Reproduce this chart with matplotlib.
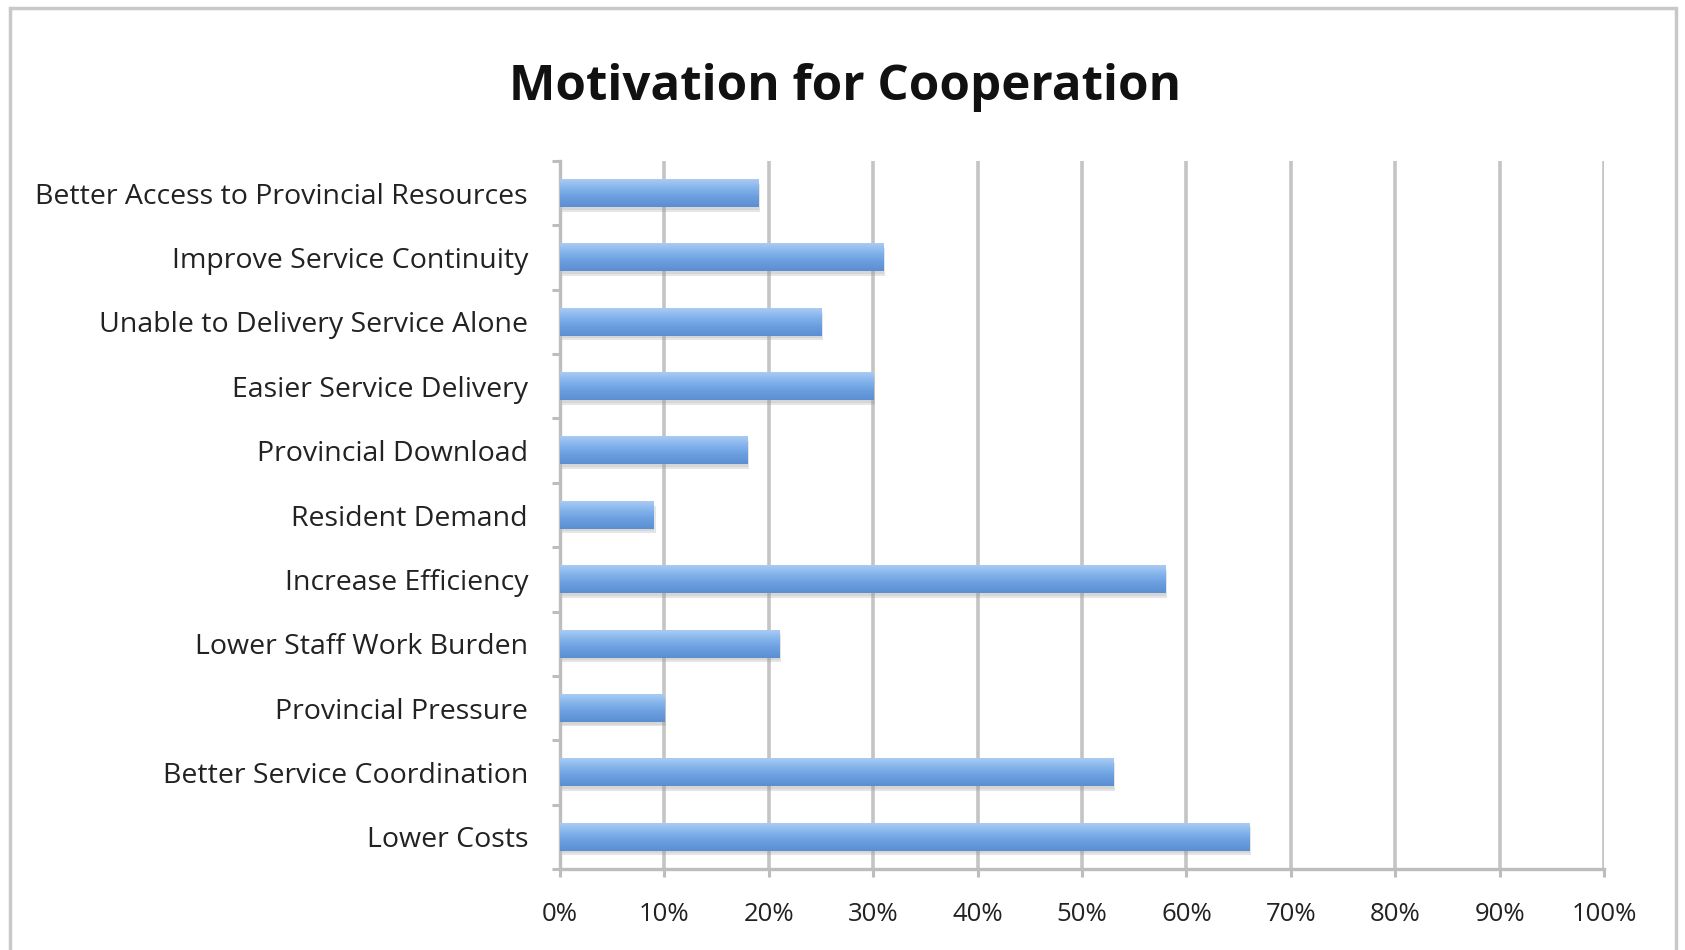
import matplotlib
matplotlib.use("Agg")
import matplotlib.pyplot as plt
import numpy as np
from matplotlib.colors import LinearSegmentedColormap
from matplotlib.patches import Rectangle

categories = [
    "Better Access to Provincial Resources",
    "Improve Service Continuity",
    "Unable to Delivery Service Alone",
    "Easier Service Delivery",
    "Provincial Download",
    "Resident Demand",
    "Increase Efficiency",
    "Lower Staff Work Burden",
    "Provincial Pressure",
    "Better Service Coordination",
    "Lower Costs",
]
values = [19, 31, 25, 30, 18, 9, 58, 21, 10, 53, 66]
x_ticks = [0, 10, 20, 30, 40, 50, 60, 70, 80, 90, 100]
x_tick_labels = [f"{t}%" for t in x_ticks]
title = "Motivation for Cooperation"

FONT = ["Open Sans", "DejaVu Sans"]
plt.rcParams["font.family"] = FONT

W, H = 1685, 950
fig = plt.figure(figsize=(W / 100, H / 100), dpi=100)
fig.patch.set_facecolor("white")

# chart-area border
fig.patches.append(Rectangle((10 / W, -0.05), (1676 - 10) / W, (H - 8) / H + 0.05,
                             transform=fig.transFigure, fill=False,
                             edgecolor="#C8C8C8", linewidth=2.5, zorder=0))

ax = fig.add_axes([560 / W, 1 - 869 / H, (1604 - 560) / W, (869 - 161) / H])

n = len(categories)
ypos = np.arange(n)[::-1]  # first category at top
bar_h = 0.43

grad = LinearSegmentedColormap.from_list(
    "g", [(0.0, "#5B8FD2"), (0.35, "#6A9EDF"), (0.7, "#86B5EC"), (1.0, "#A9CBF4")])
gimg = np.linspace(0, 1, 64).reshape(-1, 1)

for y, v in zip(ypos, values):
    # soft shadow
    ax.barh(y - 0.07, v, height=bar_h, left=0.15, color="#9A9A9A", alpha=0.25,
            zorder=2, linewidth=0)
    ax.barh(y - 0.04, v, height=bar_h, left=0.05, color="#9A9A9A", alpha=0.2,
            zorder=2, linewidth=0)
    ax.imshow(gimg, cmap=grad, aspect="auto", origin="lower",
              extent=[0, v, y - bar_h / 2, y + bar_h / 2], zorder=3,
              interpolation="bilinear")

ax.set_xlim(0, 100)
ax.set_ylim(-0.5, n - 0.5)

ax.set_xticks(x_ticks)
ax.set_xticklabels(x_tick_labels, fontsize=18.5, color="#222222")
ax.set_yticks(ypos)
ax.set_yticklabels(categories, fontsize=20.5, color="#222222")
ax.set_yticks(np.arange(-0.5, n, 1.0), minor=True)

ax.tick_params(axis="y", which="major", length=0, pad=23)
ax.tick_params(axis="y", which="minor", length=6, width=2.2, color="#BDBDBD", direction="out")
ax.tick_params(axis="x", which="major", length=6, width=2.2, color="#BDBDBD", pad=18, direction="out")

for xv in x_ticks[1:]:
    ax.axvline(xv, color="#C4C4C4", linewidth=2.6, zorder=1)

for s in ["top", "right"]:
    ax.spines[s].set_visible(False)
for s in ["left", "bottom"]:
    ax.spines[s].set_color("#BDBDBD")
    ax.spines[s].set_linewidth(2.4)

fig.text((786 * W / 1568) / W, 1 - 87 / H, title, ha="center", va="center",
         fontsize=35.5, fontweight="bold", color="#111111")

fig.savefig("out.png", dpi=100, facecolor="white")
